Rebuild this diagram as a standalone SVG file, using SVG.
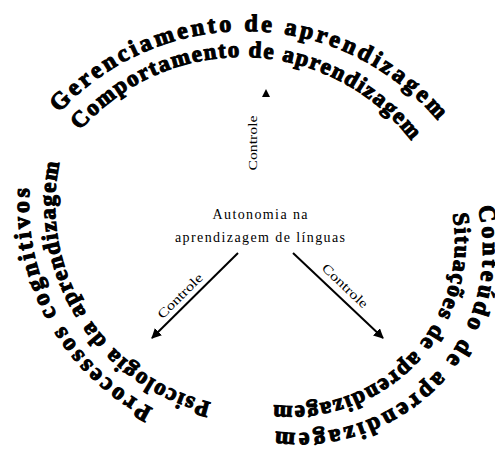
<svg xmlns="http://www.w3.org/2000/svg" width="495" height="449" viewBox="0 0 495 449">
<defs>
<style>
.arc{font-family:"Liberation Serif","Times New Roman",serif;font-weight:bold;font-size:24px;fill:#000;stroke:#000;stroke-width:1.1}
.ctr{font-family:"Liberation Serif","Times New Roman",serif;font-size:14px;fill:#000}
.lbl{font-family:"Liberation Serif","Times New Roman",serif;font-size:13px;fill:#000}
.ln{stroke:#000;stroke-width:2;fill:none}
</style>
<marker id="ah" viewBox="0 0 10 10" refX="9" refY="5" markerWidth="5" markerHeight="5" orient="auto" markerUnits="strokeWidth">
<path d="M0,0 L10,5 L0,10 z" fill="#000"/>
</marker>
<path id="p1" d="M59.2,112.7 A252,252 0 0 1 438.0,121.0"/>
<path id="p2" d="M80.0,130.6 A214,214 0 0 1 411.0,140.4"/>
<path id="p3" d="M153.0,408.5 A229,229 0 0 1 29.6,188.6"/>
<path id="p4" d="M210.9,402.5 A203,203 0 0 1 59.6,162.1"/>
<path id="p5" d="M477.9,207.0 A183,183 0 0 1 275.5,431.4"/>
<path id="p6" d="M452.6,213.8 A164,164 0 0 1 273.3,405.0"/>
</defs>
<rect width="495" height="449" fill="#fff"/>
<g id="top-labels">
<text class="arc"><textPath href="#p1" textLength="428" lengthAdjust="spacing">Gerenciamento de aprendizagem</textPath></text>
<text class="arc" style="font-size:23px"><textPath href="#p2" textLength="379" lengthAdjust="spacing">Comportamento de aprendizagem</textPath></text>
</g>
<g id="left-labels">
<text class="arc"><textPath href="#p3" textLength="267" lengthAdjust="spacing">Processos cognitivos</textPath></text>
<text class="arc" style="font-size:23px"><textPath href="#p4" textLength="314" lengthAdjust="spacing">Psicologia da aprendizagem</textPath></text>
</g>
<g id="right-labels">
<text class="arc"><textPath href="#p5" textLength="355" lengthAdjust="spacing">Conteúdo de aprendizagem</textPath></text>
<text class="arc" style="font-size:23px"><textPath href="#p6" textLength="303" lengthAdjust="spacing">Situações de aprendizagem</textPath></text>
</g>
<g id="center">
<text class="ctr" x="260" y="219" text-anchor="middle" textLength="95" lengthAdjust="spacing">Autonomia na</text>
<text class="ctr" x="260" y="242" text-anchor="middle" textLength="170" lengthAdjust="spacing">aprendizagem de línguas</text>
</g>
<g id="connectors">
<path d="M266,89 L270,97 L262,97 z" fill="#000"/>
<text class="lbl" transform="translate(257,143) rotate(-90)" text-anchor="middle" textLength="55" lengthAdjust="spacingAndGlyphs">Controle</text>
<line class="ln" x1="238" y1="253" x2="152" y2="338" marker-end="url(#ah)"/>
<text class="lbl" transform="translate(183,299) rotate(-44.7)" text-anchor="middle" textLength="58" lengthAdjust="spacingAndGlyphs">Controle</text>
<line class="ln" x1="293" y1="253" x2="383" y2="338" marker-end="url(#ah)"/>
<text class="lbl" transform="translate(342,289) rotate(43.4)" text-anchor="middle" textLength="58" lengthAdjust="spacingAndGlyphs">Controle</text>
</g>
</svg>
